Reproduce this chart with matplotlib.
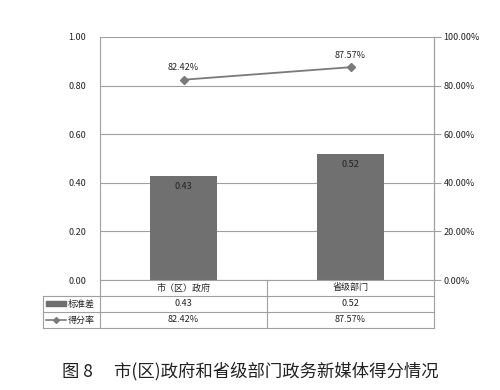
import matplotlib
matplotlib.use("Agg")
import matplotlib.pyplot as plt
from matplotlib.ticker import PercentFormatter, FormatStrFormatter

plt.rcParams['font.family'] = ['Noto Sans CJK SC', 'DejaVu Sans']

categories = ['市（区）政府', '省级部门']
std_values = [0.43, 0.52]
score_values = [82.42, 87.57]
row_names = ['标准差', '得分率']

W, H = 500, 390
fig = plt.figure(figsize=(5, 3.9), dpi=100)
fig.patch.set_facecolor('white')

# main plot area (pixels: x 100-434, y 37-280)
ax = fig.add_axes([100 / W, 1 - 280 / H, 334 / W, 243 / H])
x = list(range(len(categories)))
ax.bar(x, std_values, width=0.4, color='#707070', zorder=2)
for xi, v in zip(x, std_values):
    ax.text(xi, v - 0.025, f'{v:.2f}', ha='center', va='top', fontsize=6.5, color='#222222')
ax.set_xlim(-0.5, 1.5)
ax.set_ylim(0, 1)
ax.set_yticks([0, 0.2, 0.4, 0.6, 0.8, 1.0])
ax.yaxis.set_major_formatter(FormatStrFormatter('%.2f'))
ax.grid(axis='y', color='#a0a0a0', linewidth=0.8, zorder=0)
ax.set_xticks([])
ax.tick_params(axis='y', length=0, labelsize=6.5, pad=10, labelcolor='#222222')
for side in ['top', 'bottom']:
    ax.spines[side].set_visible(False)
ax.spines['left'].set_color('#a0a0a0')
ax.spines['right'].set_color('#a0a0a0')

ax2 = ax.twinx()
ax2.plot(x, score_values, color='#7a7a7a', linewidth=1.3, marker='D', markersize=4,
         markerfacecolor='#7a7a7a', zorder=3)
for xi, v in zip(x, score_values):
    ax2.text(xi, v + 3, f'{v:.2f}%', ha='center', va='bottom', fontsize=6.5, color='#222222')
ax2.set_ylim(0, 100)
ax2.set_yticks([0, 20, 40, 60, 80, 100])
ax2.yaxis.set_major_formatter(PercentFormatter(decimals=2))
ax2.tick_params(axis='y', length=5, color='#a0a0a0', labelsize=6.5, pad=2, labelcolor='#222222')
for side in ['top', 'bottom', 'left']:
    ax2.spines[side].set_visible(False)
ax2.spines['right'].set_color('#a0a0a0')

# data table below (pixels: x 43-434, y 280-328)
tab = fig.add_axes([43 / W, 1 - 328 / H, 391 / W, 48 / H])
tab.set_xlim(43, 434)
tab.set_ylim(328, 280)
tab.axis('off')
lc = '#a0a0a0'
for yy in [280, 296, 312, 328]:
    x0 = 100 if yy == 280 else 43
    tab.plot([x0, 434], [yy, yy], color=lc, linewidth=0.8, clip_on=False)
tab.plot([43, 43], [296, 328], color=lc, linewidth=0.8, clip_on=False)
tab.plot([100, 100], [280, 328], color=lc, linewidth=0.8, clip_on=False)
tab.plot([267, 267], [280, 328], color=lc, linewidth=0.8, clip_on=False)
tab.plot([434, 434], [280, 328], color=lc, linewidth=0.8, clip_on=False)

centers = [183.5, 350.5]
for c, name, s, p in zip(centers, categories, std_values, score_values):
    tab.text(c, 288, name, ha='center', va='center', fontsize=6.5, color='#222222')
    tab.text(c, 304, f'{s:.2f}', ha='center', va='center', fontsize=6.5, color='#222222')
    tab.text(c, 320, f'{p:.2f}%', ha='center', va='center', fontsize=6.5, color='#222222')

# legend keys
tab.fill_between([46, 66], 301.5, 306.5, color='#707070')
tab.text(68, 304, row_names[0], ha='left', va='center', fontsize=6.5, color='#222222')
tab.plot([46, 66], [320, 320], color='#7a7a7a', linewidth=1.2)
tab.plot([56], [320], marker='D', markersize=3, color='#7a7a7a')
tab.text(68, 320, row_names[1], ha='left', va='center', fontsize=6.5, color='#222222')

fig.text(250 / W, 1 - 371 / H, '图 8　 市(区)政府和省级部门政务新媒体得分情况',
         ha='center', va='center', fontsize=12.5, color='#222222')

fig.savefig('out.png', dpi=100, facecolor='white')
